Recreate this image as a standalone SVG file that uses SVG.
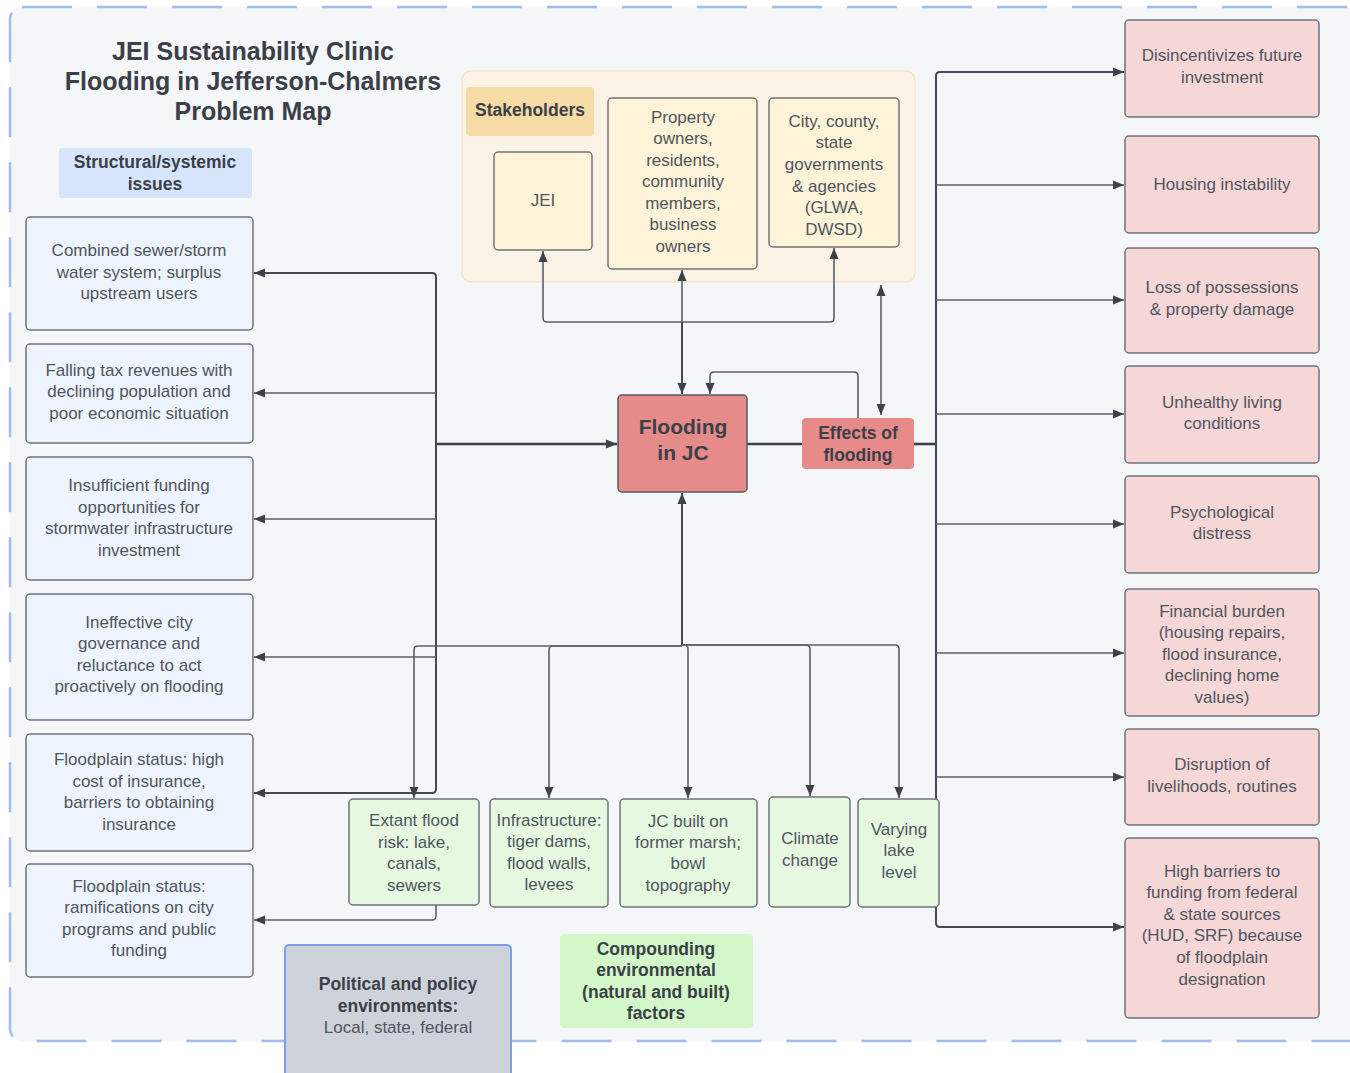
<svg xmlns="http://www.w3.org/2000/svg" width="1350" height="1073" viewBox="0 0 1350 1073">
<defs>
<marker id="ar" markerUnits="userSpaceOnUse" markerWidth="12" markerHeight="10" refX="11" refY="5" orient="auto-start-reverse" viewBox="0 0 12 10">
<path d="M0,0.5 L11,5 L0,9.5 z" fill="#3d424a"/>
</marker>
<style>
text{font-family:"Liberation Sans",Arial,sans-serif;text-anchor:middle;}
.t{font-size:17px;fill:#50555d;}
.b{font-size:17.5px;font-weight:bold;fill:#3b4048;}
.title{font-size:25px;font-weight:bold;fill:#3b4048;}
.big{font-size:21px;font-weight:bold;fill:#3b4048;}
.blue{fill:#eef4fe;stroke:#6f737a;stroke-width:1.5;}
.pink{fill:#f5d7d8;stroke:#6f737a;stroke-width:1.5;}
.green{fill:#e7f8e1;stroke:#6f737a;stroke-width:1.5;}
.cream{fill:#fdf3d9;stroke:#6f737a;stroke-width:1.5;}
.c{fill:none;stroke:#5b6068;stroke-width:1.6;}
.k{fill:none;stroke:#3b4048;stroke-width:2.6;}
.m{fill:none;stroke:#454a52;stroke-width:2;}
</style>
</defs>
<rect x="0" y="0" width="1350" height="1073" fill="#ffffff"/>
<rect id="frame" x="10" y="7" width="1370" height="1034" rx="12" fill="#f5f6f8" stroke="#a3bcf0" stroke-width="2.5" stroke-dasharray="50 25"/>

<g id="stakeholders">
<rect x="462" y="71" width="453" height="211" rx="9" fill="#faf2e4" stroke="#f4e6c9" stroke-width="1.5"/>
<rect x="466" y="87" width="128" height="49" rx="4" fill="#f6dba7"/>
<text class="b" x="530" y="116">Stakeholders</text>
</g>

<g id="connectors">
<path class="c" d="M682,322 V270" marker-end="url(#ar)"/>
<path class="c" d="M682,322 H547 Q543,322 543,318 V251" marker-end="url(#ar)"/>
<path class="c" d="M682,322 H830 Q834,322 834,318 V248" marker-end="url(#ar)"/>
<path class="m" d="M682,322 V394" marker-end="url(#ar)"/>
<path class="c" d="M858,418 V376 Q858,372 854,372 H714 Q710,372 710,376 V394" marker-end="url(#ar)"/>
<path class="c" d="M881,415 V285" marker-start="url(#ar)" marker-end="url(#ar)"/>
<path class="k" d="M747,444 H802"/>
<path class="k" d="M914,444 H936"/>
<path class="k" d="M436,444 H617" marker-end="url(#ar)"/>
<path class="m" d="M936,444 V76 Q936,72 940,72 H1124" marker-end="url(#ar)"/>
<path class="m" d="M936,444 V923 Q936,927 940,927 H1124" marker-end="url(#ar)"/>
<path class="c" d="M936,185 H1124" marker-end="url(#ar)"/>
<path class="c" d="M936,300 H1124" marker-end="url(#ar)"/>
<path class="c" d="M936,414 H1124" marker-end="url(#ar)"/>
<path class="c" d="M936,524 H1124" marker-end="url(#ar)"/>
<path class="c" d="M936,653 H1124" marker-end="url(#ar)"/>
<path class="c" d="M936,777 H1124" marker-end="url(#ar)"/>
<path class="m" d="M436,444 V277 Q436,273 432,273 H254" marker-end="url(#ar)"/>
<path class="m" d="M436,444 V789 Q436,793 432,793 H254" marker-end="url(#ar)"/>
<path class="c" d="M436,393 H254" marker-end="url(#ar)"/>
<path class="c" d="M436,519 H254" marker-end="url(#ar)"/>
<path class="c" d="M436,657 H254" marker-end="url(#ar)"/>
<path class="c" d="M436,905 V916 Q436,920 432,920 H254" marker-end="url(#ar)"/>
<path class="m" d="M682,645 V493" marker-end="url(#ar)"/>
<path class="c" d="M682,646 H418 Q414,646 414,650 V798" marker-end="url(#ar)"/>
<path class="c" d="M682,646 H553 Q549,646 549,650 V798" marker-end="url(#ar)"/>
<path class="c" d="M682,645 H684 Q688,645 688,649 V798" marker-end="url(#ar)"/>
<path class="c" d="M682,645 H806 Q810,645 810,649 V796" marker-end="url(#ar)"/>
<path class="c" d="M682,645 H895 Q899,645 899,649 V798" marker-end="url(#ar)"/>
</g>

<g id="title">
<text class="title" x="253" y="60">JEI Sustainability Clinic</text>
<text class="title" x="253" y="90">Flooding in Jefferson-Chalmers</text>
<text class="title" x="253" y="120">Problem Map</text>
</g>

<g id="structural-label">
<rect x="59" y="148" width="193" height="50" rx="3" fill="#d6e4fc"/>
<text class="b"><tspan x="155" y="168">Structural/systemic</tspan><tspan x="155" y="190">issues</tspan></text>
</g>

<g id="s1"><rect class="blue" x="26" y="217" width="227" height="113" rx="4"/>
<text class="t"><tspan x="139" y="256">Combined sewer/storm</tspan><tspan x="139" y="278">water system; surplus</tspan><tspan x="139" y="299">upstream users</tspan></text></g>
<g id="s2"><rect class="blue" x="26" y="344" width="227" height="99" rx="4"/>
<text class="t"><tspan x="139" y="376">Falling tax revenues with</tspan><tspan x="139" y="397">declining population and</tspan><tspan x="139" y="419">poor economic situation</tspan></text></g>
<g id="s3"><rect class="blue" x="26" y="457" width="227" height="123" rx="4"/>
<text class="t"><tspan x="139" y="491">Insufficient funding</tspan><tspan x="139" y="513">opportunities for</tspan><tspan x="139" y="534">stormwater infrastructure</tspan><tspan x="139" y="556">investment</tspan></text></g>
<g id="s4"><rect class="blue" x="26" y="594" width="227" height="126" rx="4"/>
<text class="t"><tspan x="139" y="628">Ineffective city</tspan><tspan x="139" y="649">governance and</tspan><tspan x="139" y="671">reluctance to act</tspan><tspan x="139" y="692">proactively on flooding</tspan></text></g>
<g id="s5"><rect class="blue" x="26" y="734" width="227" height="117" rx="4"/>
<text class="t"><tspan x="139" y="765">Floodplain status: high</tspan><tspan x="139" y="787">cost of insurance,</tspan><tspan x="139" y="808">barriers to obtaining</tspan><tspan x="139" y="830">insurance</tspan></text></g>
<g id="s6"><rect class="blue" x="26" y="864" width="227" height="113" rx="4"/>
<text class="t"><tspan x="139" y="892">Floodplain status:</tspan><tspan x="139" y="913">ramifications on city</tspan><tspan x="139" y="935">programs and public</tspan><tspan x="139" y="956">funding</tspan></text></g>

<g id="jei"><rect class="cream" x="494" y="152" width="98" height="98" rx="4"/>
<text class="t" x="543" y="206">JEI</text></g>
<g id="property"><rect class="cream" x="608" y="98" width="149" height="171" rx="4"/>
<text class="t"><tspan x="683" y="123">Property</tspan><tspan x="683" y="144">owners,</tspan><tspan x="683" y="166">residents,</tspan><tspan x="683" y="187">community</tspan><tspan x="683" y="209">members,</tspan><tspan x="683" y="230">business</tspan><tspan x="683" y="252">owners</tspan></text></g>
<g id="gov"><rect class="cream" x="769" y="98" width="130" height="149" rx="4"/>
<text class="t"><tspan x="834" y="127">City, county,</tspan><tspan x="834" y="148">state</tspan><tspan x="834" y="170">governments</tspan><tspan x="834" y="192">&amp; agencies</tspan><tspan x="834" y="213">(GLWA,</tspan><tspan x="834" y="235">DWSD)</tspan></text></g>

<g id="flooding"><rect x="618" y="395" width="129" height="97" rx="4" fill="#e58b8a" stroke="#555a61" stroke-width="1.5"/>
<text class="big"><tspan x="683" y="434">Flooding</tspan><tspan x="683" y="460">in JC</tspan></text></g>
<g id="effects"><rect x="802" y="418" width="112" height="51" rx="4" fill="#e68b8a"/>
<text class="b"><tspan x="858" y="439">Effects of</tspan><tspan x="858" y="461">flooding</tspan></text></g>

<g id="e1"><rect class="pink" x="1125" y="20" width="194" height="97" rx="4"/>
<text class="t"><tspan x="1222" y="61">Disincentivizes future</tspan><tspan x="1222" y="83">investment</tspan></text></g>
<g id="e2"><rect class="pink" x="1125" y="136" width="194" height="97" rx="4"/>
<text class="t" x="1222" y="190">Housing instability</text></g>
<g id="e3"><rect class="pink" x="1125" y="248" width="194" height="105" rx="4"/>
<text class="t"><tspan x="1222" y="293">Loss of possessions</tspan><tspan x="1222" y="315">&amp; property damage</tspan></text></g>
<g id="e4"><rect class="pink" x="1125" y="366" width="194" height="97" rx="4"/>
<text class="t"><tspan x="1222" y="408">Unhealthy living</tspan><tspan x="1222" y="429">conditions</tspan></text></g>
<g id="e5"><rect class="pink" x="1125" y="476" width="194" height="97" rx="4"/>
<text class="t"><tspan x="1222" y="518">Psychological</tspan><tspan x="1222" y="539">distress</tspan></text></g>
<g id="e6"><rect class="pink" x="1125" y="589" width="194" height="127" rx="4"/>
<text class="t"><tspan x="1222" y="617">Financial burden</tspan><tspan x="1222" y="638">(housing repairs,</tspan><tspan x="1222" y="660">flood insurance,</tspan><tspan x="1222" y="681">declining home</tspan><tspan x="1222" y="703">values)</tspan></text></g>
<g id="e7"><rect class="pink" x="1125" y="729" width="194" height="96" rx="4"/>
<text class="t"><tspan x="1222" y="770">Disruption of</tspan><tspan x="1222" y="792">livelihoods, routines</tspan></text></g>
<g id="e8"><rect class="pink" x="1125" y="838" width="194" height="180" rx="4"/>
<text class="t"><tspan x="1222" y="877">High barriers to</tspan><tspan x="1222" y="898">funding from federal</tspan><tspan x="1222" y="920">&amp; state sources</tspan><tspan x="1222" y="941">(HUD, SRF) because</tspan><tspan x="1222" y="963">of floodplain</tspan><tspan x="1222" y="985">designation</tspan></text></g>

<g id="f1"><rect class="green" x="349" y="799" width="130" height="106" rx="4"/>
<text class="t"><tspan x="414" y="826">Extant flood</tspan><tspan x="414" y="848">risk: lake,</tspan><tspan x="414" y="869">canals,</tspan><tspan x="414" y="891">sewers</tspan></text></g>
<g id="f2"><rect class="green" x="490" y="799" width="118" height="108" rx="4"/>
<text class="t"><tspan x="549" y="826">Infrastructure:</tspan><tspan x="549" y="847">tiger dams,</tspan><tspan x="549" y="869">flood walls,</tspan><tspan x="549" y="890">levees</tspan></text></g>
<g id="f3"><rect class="green" x="620" y="799" width="137" height="108" rx="4"/>
<text class="t"><tspan x="688" y="827">JC built on</tspan><tspan x="688" y="848">former marsh;</tspan><tspan x="688" y="869">bowl</tspan><tspan x="688" y="891">topography</tspan></text></g>
<g id="f4"><rect class="green" x="769" y="797" width="81" height="110" rx="4"/>
<text class="t"><tspan x="810" y="844">Climate</tspan><tspan x="810" y="866">change</tspan></text></g>
<g id="f5"><rect class="green" x="858" y="799" width="81" height="108" rx="4"/>
<text class="t"><tspan x="899" y="835">Varying</tspan><tspan x="899" y="856">lake</tspan><tspan x="899" y="878">level</tspan></text></g>

<g id="compounding"><rect x="560" y="934" width="193" height="94" rx="4" fill="#d3f7c9"/>
<text class="b"><tspan x="656" y="955">Compounding</tspan><tspan x="656" y="976">environmental</tspan><tspan x="656" y="998">(natural and built)</tspan><tspan x="656" y="1019">factors</tspan></text></g>
<g id="political"><rect x="285" y="945" width="226" height="140" rx="4" fill="#ced2db" stroke="#7d9fe8" stroke-width="2"/>
<text class="b"><tspan x="398" y="990">Political and policy</tspan><tspan x="398" y="1012">environments:</tspan></text>
<text class="t" x="398" y="1033">Local, state, federal</text></g>
</svg>
